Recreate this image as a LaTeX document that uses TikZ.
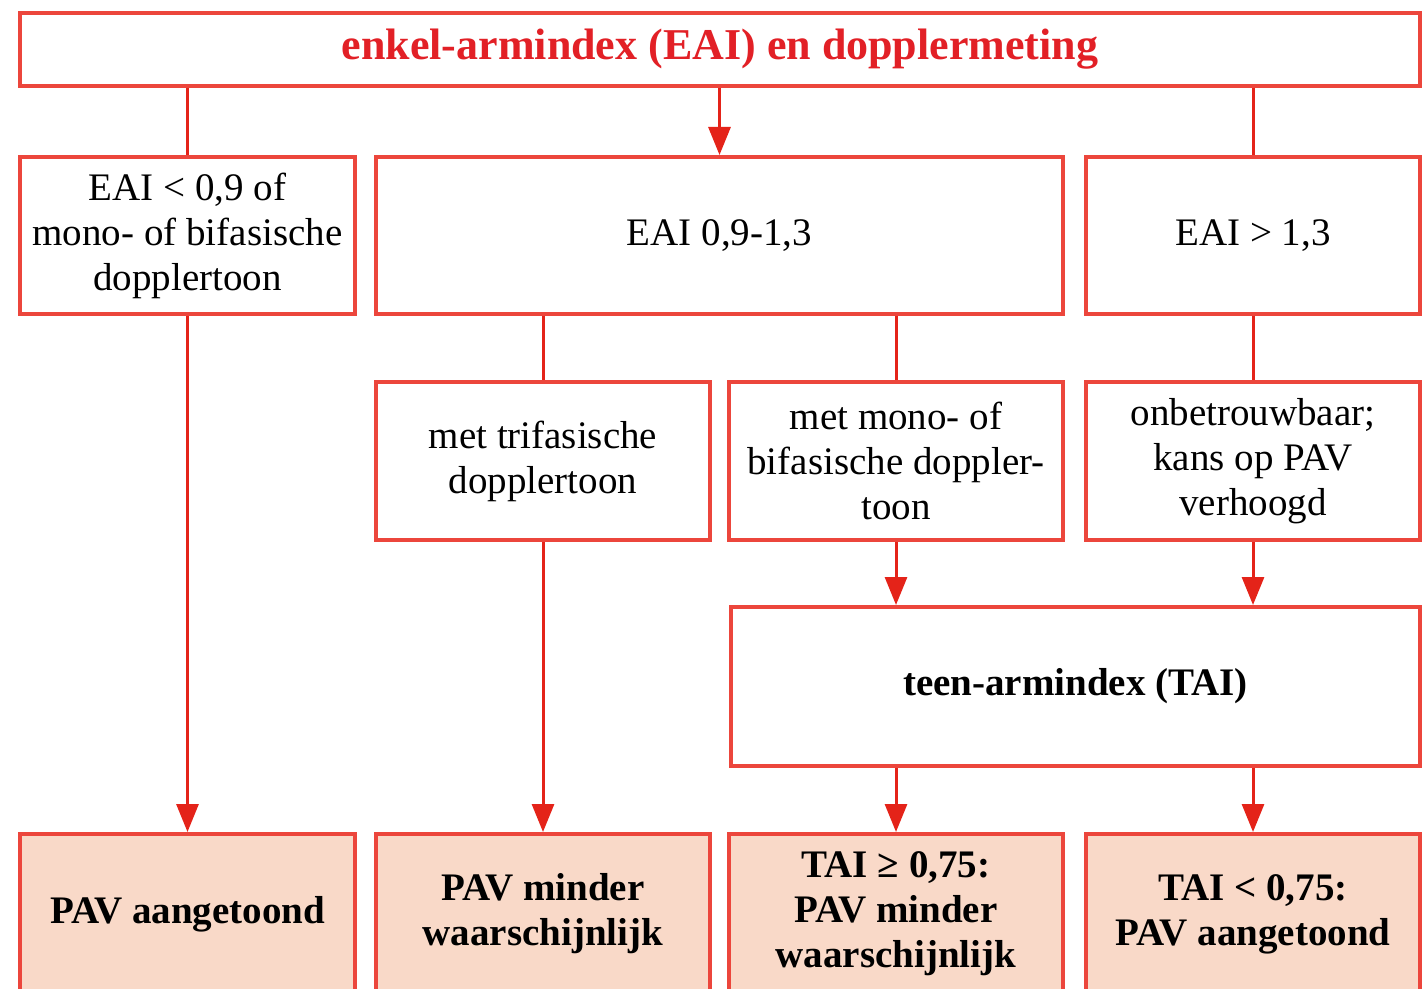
\documentclass[tikz,border=0pt]{standalone}
\usepackage{fontspec}
\setmainfont{Liberation Serif}
\usetikzlibrary{arrows.meta}
\definecolor{boxred}{RGB}{236,70,60}
\definecolor{linered}{RGB}{228,35,25}
\definecolor{titlered}{RGB}{226,32,38}
\definecolor{peach}{RGB}{249,217,200}
\begin{document}
\begin{tikzpicture}[x=0.5pt,y=-0.5pt,
  box/.style={draw=boxred, line width=2pt, fill=white, align=center, inner sep=0pt,
    font=\fontsize{19.5}{22.5}\selectfont},
  endbox/.style={box, fill=peach, font=\fontsize{19.5}{22.5}\selectfont\bfseries},
  conn/.style={draw=linered, line width=1.5pt},
  arr/.style={conn, -{Triangle[width=11pt,length=14pt]}}]
\path[use as bounding box, clip] (0,0) rectangle (1428,989);
% top
\node[box, minimum width=700pt, minimum height=36.5pt,
  font=\fontsize{22}{26}\selectfont\bfseries, text=titlered] (top) at (720,49.5)
  {enkel-armindex (EAI) en dopplermeting};
% row 2
\node[box, minimum width=167.5pt, minimum height=78.5pt] (A) at (187.5,235.5)
  {EAI < 0,9 of\\mono- of bifasische\\dopplertoon};
\node[box, minimum width=343.5pt, minimum height=78.5pt] (B) at (719.5,235.5)
  {EAI 0,9-1,3};
\node[box, minimum width=167pt, minimum height=78.5pt] (C) at (1253,235.5)
  {EAI > 1,3};
% row 3
\node[box, minimum width=167pt, minimum height=79pt] (D) at (543,461)
  {met trifasische\\dopplertoon};
\node[box, minimum width=167pt, minimum height=79pt] (E) at (896,461)
  {met mono- of\\bifasische doppler-\\toon};
\node[box, minimum width=167pt, minimum height=79pt] (F) at (1253,461)
  {onbetrouwbaar;\\kans op PAV\\verhoogd};
% TAI
\node[box, minimum width=344.5pt, minimum height=79.5pt, font=\fontsize{19.5}{22.5}\selectfont\bfseries] (T) at (1075.5,686.5)
  {teen-armindex (TAI)};
% bottom
\node[endbox, minimum width=167.5pt, minimum height=80pt] (G) at (187.5,914)
  {PAV aangetoond};
\node[endbox, minimum width=167pt, minimum height=80pt] (H) at (543,914)
  {PAV minder\\waarschijnlijk};
\node[endbox, minimum width=167pt, minimum height=80pt] (I) at (896,914)
  {TAI ≥ 0,75:\\PAV minder\\waarschijnlijk};
\node[endbox, minimum width=167pt, minimum height=80pt] (J) at (1253,914)
  {TAI < 0,75:\\PAV aangetoond};
% connectors
\draw[conn] (top.south -| A.north) -- (A.north);
\draw[arr] (top.south -| B.north) -- (B.north);
\draw[conn] (top.south -| C.north) -- (C.north);
\draw[arr] (A.south) -- (G.north);
\draw[conn] (B.south -| D.north) -- (D.north);
\draw[conn] (B.south -| E.north) -- (E.north);
\draw[conn] (C.south) -- (F.north);
\draw[arr] (D.south) -- (H.north);
\draw[arr] (E.south) -- (E.south |- T.north);
\draw[arr] (F.south) -- (F.south |- T.north);
\draw[arr] (T.south -| I.north) -- (I.north);
\draw[arr] (T.south -| J.north) -- (J.north);
\end{tikzpicture}
\end{document}
